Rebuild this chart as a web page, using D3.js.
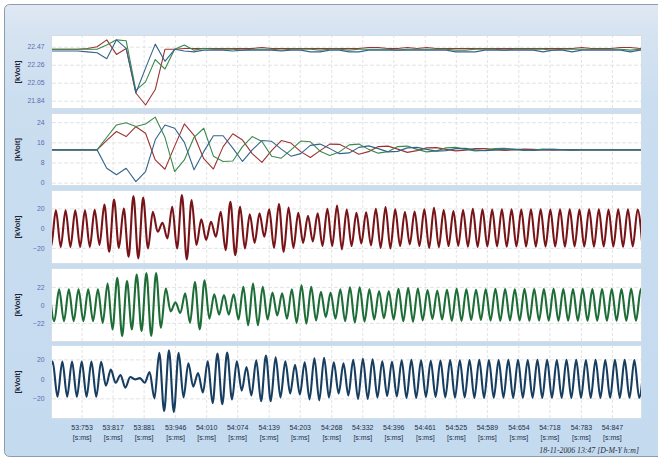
<!DOCTYPE html>
<html>
<head>
<meta charset="utf-8">
<script src="https://cdn.jsdelivr.net/npm/d3@7"></script>
<style>
  html, body { margin: 0; padding: 0; background: #fff; }
  svg { display: block; }
</style>
</head>
<body>
<svg id="chart" width="658" height="459"></svg>
<script>
// ---- time axis (seconds:milliseconds, expressed as ms) ----
const timeDomain = [53692, 54907];
const timeTicks = [53753, 53817, 53881, 53946, 54010, 54074, 54139, 54203, 54268,
                   54332, 54396, 54461, 54525, 54589, 54654, 54718, 54783, 54847];
const timeTickLabels = ["53:753", "53:817", "53:881", "53:946", "54:010", "54:074", "54:139", "54:203", "54:268",
                        "54:332", "54:396", "54:461", "54:525", "54:589", "54:654", "54:718", "54:783", "54:847"];
const timeUnit = "[s:ms]";
const unitLabel = "[kVolt]";
const stampText = "18-11-2006 13:47 [D-M-Y h:m]";

// ---- per-cycle values (one sample every 20 ms, first sample at rmsStart) ----
const rmsStart = 53685;
const rmsStep = 20;

const p1Red = [22.44, 22.44, 22.44, 22.44, 22.45,
  22.47, 22.55, 22.38, 22.45, 21.93, 21.79, 21.97, 22.44, 22.44, 22.45,
  22.45, 22.45, 22.45, 22.45, 22.45, 22.45, 22.45, 22.46, 22.45, 22.45,
  22.45, 22.45, 22.45, 22.45, 22.45, 22.45, 22.45, 22.45, 22.46, 22.46,
  22.45, 22.45, 22.46, 22.45, 22.46, 22.45, 22.45, 22.45, 22.45, 22.45,
  22.45, 22.45, 22.45, 22.45, 22.45, 22.45, 22.45, 22.45, 22.45, 22.45,
  22.46, 22.45, 22.45, 22.45, 22.46, 22.46, 22.45, 22.46];
const p1Green = [22.44, 22.44, 22.44, 22.44, 22.44,
  22.44, 22.49, 22.55, 22.54, 21.96, 22.06, 22.32, 22.21, 22.44, 22.49,
  22.43, 22.45, 22.44, 22.44, 22.44, 22.43, 22.44, 22.44, 22.44, 22.43,
  22.44, 22.44, 22.44, 22.43, 22.44, 22.44, 22.43, 22.44, 22.44, 22.44,
  22.44, 22.43, 22.44, 22.44, 22.44, 22.44, 22.44, 22.43, 22.43, 22.44,
  22.44, 22.44, 22.43, 22.44, 22.44, 22.44, 22.44, 22.43, 22.44, 22.44,
  22.44, 22.44, 22.44, 22.44, 22.44, 22.43, 22.44, 22.44];
const p1Blue = [22.42, 22.42, 22.42, 22.42, 22.41,
  22.40, 22.33, 22.55, 22.45, 21.93, 22.22, 22.50, 22.30, 22.44, 22.42,
  22.41, 22.43, 22.43, 22.43, 22.42, 22.43, 22.43, 22.43, 22.43, 22.42,
  22.43, 22.43, 22.41, 22.41, 22.43, 22.43, 22.41, 22.41, 22.43, 22.43,
  22.43, 22.43, 22.43, 22.43, 22.43, 22.43, 22.43, 22.41, 22.41, 22.41,
  22.43, 22.43, 22.43, 22.43, 22.43, 22.43, 22.41, 22.43, 22.43, 22.41,
  22.43, 22.43, 22.43, 22.43, 22.43, 22.41, 22.43, 22.43];

const p2Red = [13, 13, 13, 13, 13,
  13, 16.8, 20.3, 18.3, 22.2, 19.6, 9.0, 5.3, 14.5, 23.3,
  18.8, 9.5, 5.4, 14.3, 19.4, 16.9, 11.5, 8.0, 12.7, 16.7,
  15.7, 12.3, 10.0, 12.7, 15.3, 15.2, 13.3, 11.3, 12.3, 14.3,
  14.5, 13.3, 12.0, 12.7, 13.8, 13.9, 13.2, 12.6, 12.9, 13.5,
  13.5, 13.1, 12.8, 13.0, 13.3, 13.2, 13.0, 12.9, 13.0, 13.1,
  13.0, 13.0, 13.0, 13.0, 13.0, 13.0, 13.0, 13.0];
const p2Green = [13, 13, 13, 13, 13,
  13, 18, 22.9, 23.8, 22.3, 23.3, 26, 18, 4.4, 9,
  18, 21.6, 10.5, 8.4, 8.6, 14.3, 18.3, 16.3, 10.5, 9.7,
  13, 16.5, 16.2, 12.5, 10.8, 12.2, 15.0, 15.3, 13.2, 11.7,
  12.3, 14.3, 14.5, 13.2, 12.2, 12.6, 13.8, 14.0, 13.2, 12.6,
  12.8, 13.5, 13.6, 13.1, 12.8, 12.9, 13.3, 13.2, 13.0, 12.9,
  13.0, 13.0, 13.0, 13.0, 13.0, 13.0, 13.0, 13.0];
const p2Blue = [13, 13, 13, 13, 13,
  13, 5.7, 3.1, 5.7, 0.4, 4.4, 17, 22.9, 21.6, 16,
  5.1, 12.3, 18.6, 18.6, 13.7, 8.4, 13, 16.7, 16.4, 13.3,
  10.5, 11.5, 14.8, 15.3, 13.5, 11.5, 11.8, 14.0, 14.6, 13.5,
  12.2, 12.4, 13.8, 14.0, 13.2, 12.5, 12.7, 13.5, 13.6, 13.0,
  12.7, 12.9, 13.3, 13.3, 13.0, 12.8, 13.0, 13.2, 13.1, 12.9,
  13.0, 13.0, 13.0, 13.0, 13.0, 13.0, 13.0, 13.0];

// ---- instantaneous waveforms: successive half-cycle extremes, 10 ms apart ----
const waveStep = 10;
const redStart = 53680;      // first value is a crest
const greenStart = 53686.7;  // first value is a crest
const blueStart = 53683.3;   // first value is a trough

const waveRed = [18,
  -19, 18, -19, 18, -19, 18, -19, 18, -19, 18.5,
  -17, 24, -24, 29, -20, 20, -29, 32.5, -30.7, 31,
  -20.6, 16.6, -3.7, 5.4, -10.4, 21.7, -20.6, 33.5, -31.8, 28.5,
  -17.2, 9, -12, 6.5, -8.8, 16.6, -22.3, 26.7, -27.4, 21.7,
  -20.6, 14, -15, 15, -8.8, 19, -20, 24.5, -24, 21,
  -20, 15.5, -15, 12.5, -13.5, 15, -18, 19.6, -18.2, 23,
  -21.6, 18.8, -18.2, 15.6, -15.5, 16.2, -17.5, 19.6, -20, 21.3,
  -20.6, 19, -18.2, 16.3, -16.5, 16.8, -18.2, 19, -20, 20.6,
  -19.3, 18.3, -18.2, 17.3, -18, 18.3, -18.8, 19.6, -19, 19,
  -18.6, 18.8, -18.5, 19.2, -18.8, 19, -18.6, 18.9, -18.7, 19.1,
  -18.8, 19, -18.6, 18.8, -18.7, 19.1, -18.9, 19, -18.6, 18.9,
  -18.7, 19, -18.8, 19.1, -18.6, 18.8, -18.7, 19, -18.9, 19,
  -18.6, 18.9, -18.7];

const waveGreen = [
  19, -20, 19, -20, 19, -20, 19, -20, 19, -20,
  19, -22, 26, -30, 33, -38, 29, -30, 37, -32,
  39, -38, 39, -28, 20, -8, 3, -10, 14, -22,
  28, -30, 30, -17, 13, -12, 12, -12, 13, -18,
  22, -25, 26, -25, 22, -18, 15, -13, 14, -17,
  19, -22, 24, -23, 22, -19, 16, -15, 15, -17,
  19, -20, 21.5, -21.5, 21.5, -20.5, 19, -18, 17, -16.5,
  17, -18, 19.5, -20, 20.5, -20.5, 20, -19, 18, -17.5,
  17.5, -18, 18.5, -19.5, 19.5, -19.5, 19, -18.5, 18.5, -18.5,
  19, -19.3, 19.5, -19.5, 19.3, -19, 19, -19.2, 19.5, -19.5,
  19.4, -19.2, 19.2, -19.3, 19.5, -19.5, 19.3, -19.2, 19.3, -19.4,
  19.5, -19.4, 19.3, -19.3, 19.4, -19.5, 19.4, -19.3, 19.3, -19.4,
  19.5, -19.4, 19.3, -19.3];

const waveBlue = [
  -18.3, 17.8, -18.3, 17.8, -18.3, 17.8, -18.3, 17.8, -18.3, 17.8,
  -18.3, 17.5, -7, 9.5, -4, 4, -9, 2, -0.5, 0.8,
  -4, 7, -20, 26.7, -33, 29.4, -34, 26.7, -19, 16,
  -8, 6, -14, 18, -25, 26, -26, 27, -21, 18,
  -12, 12, -17, 19, -23, 24, -23, 22, -19, 18,
  -15, 14.5, -16, 17, -21, 21, -22, 21.5, -19, 17,
  -15, 16, -17, 19.5, -20.5, 20.5, -20.5, 20, -19, 18,
  -17.5, 17.5, -18, 19, -19.5, 19.5, -19.5, 19, -18.5, 18.5,
  -18.5, 18.8, -19, 19.2, -19.2, 19, -19, 19.3, -19.5, 19.5,
  -19.5, 19.4, -19.3, 19.2, -19.3, 19.5, -19.6, 19.5, -19.4, 19.3,
  -19.4, 19.5, -19.6, 19.5, -19.4, 19.4, -19.5, 19.6, -19.6, 19.5,
  -19.4, 19.4, -19.5, 19.6, -19.5, 19.4, -19.4, 19.5, -19.6, 19.5,
  -19.4, 19.4, -19.5, 19.6];

// ---- y tick values per panel ----
const p1Ticks = [21.84, 22.05, 22.26, 22.47];
const p2Ticks = [0, 8, 16, 24];
const p3Ticks = [-20, 0, 20];
const p4Ticks = [-22, 0, 22];
const p5Ticks = [-20, 0, 20];

// ---- layout & styling ----
const plotLeft = 52, plotRight = 641;
const colors = {
  redThin: "#9c3434", greenThin: "#3a8a4c", blueThin: "#35648a",
  red: "#781418", green: "#1d6d36", blue: "#173e60"
};
const FONT = "'Liberation Sans', Arial, sans-serif";

const panels = [
  { top: 36,  bottom: 108, domain: [21.755, 22.595], ticks: p1Ticks, fmt: d3.format(".2f"),
    kind: "cycle", series: [[p1Red, colors.redThin], [p1Green, colors.greenThin], [p1Blue, colors.blueThin]] },
  { top: 114, bottom: 185, domain: [-0.95, 27.25], ticks: p2Ticks, fmt: d3.format("d"),
    kind: "cycle", series: [[p2Red, colors.redThin], [p2Green, colors.greenThin], [p2Blue, colors.blueThin]] },
  { top: 191, bottom: 263, domain: [-35.4, 37.7], ticks: p3Ticks, fmt: d3.format("d"),
    kind: "wave", series: [[waveRed, colors.red, redStart]] },
  { top: 269, bottom: 341, domain: [-44.2, 43.8], ticks: p4Ticks, fmt: d3.format("d"),
    kind: "wave", series: [[waveGreen, colors.green, greenStart]] },
  { top: 346, bottom: 418, domain: [-40.1, 33.7], ticks: p5Ticks, fmt: d3.format("d"),
    kind: "wave", series: [[waveBlue, colors.blue, blueStart]] }
];

const svg = d3.select("#chart");
const defs = svg.append("defs");

const grad = defs.append("linearGradient").attr("id", "frameBg")
  .attr("x1", 0).attr("y1", 0).attr("x2", 0).attr("y2", 1);
[["0%", "#e0e9f4"], ["6%", "#d6e3f1"], ["22%", "#cadef0"], ["100%", "#c4daef"]]
  .forEach(([o, c]) => grad.append("stop").attr("offset", o).attr("stop-color", c));

svg.append("rect").attr("width", 658).attr("height", 459).attr("fill", "#ffffff");
svg.append("rect")
  .attr("x", 4.5).attr("y", 4.5).attr("width", 690).attr("height", 452)
  .attr("rx", 5).attr("fill", "url(#frameBg)").attr("stroke", "#8d9caa");

const x = d3.scaleLinear().domain(timeDomain).range([plotLeft, plotRight]);
const plotW = plotRight - plotLeft;

panels.forEach((p, pi) => {
  const y = d3.scaleLinear().domain(p.domain).range([p.bottom, p.top]);
  const h = p.bottom - p.top;
  const g = svg.append("g");

  // panel background
  g.append("rect")
    .attr("x", plotLeft - 0.5).attr("y", p.top - 0.5)
    .attr("width", plotW + 1).attr("height", h + 1)
    .attr("fill", "#ffffff").attr("stroke", "#d5dde7");

  // grid
  const gy = g.append("g").attr("transform", `translate(${plotLeft},0)`)
    .call(d3.axisLeft(y).tickValues(p.ticks).tickSize(-plotW).tickFormat(""));
  gy.select(".domain").remove();
  gy.selectAll("line").attr("stroke", "#e3e3e3").attr("stroke-dasharray", "4,2");

  const gx = g.append("g").attr("transform", `translate(0,${p.bottom})`)
    .call(d3.axisBottom(x).tickValues(timeTicks).tickSize(-h).tickFormat(""));
  gx.select(".domain").remove();
  gx.selectAll("line").attr("stroke", "#e3e3e3").attr("stroke-dasharray", "3,2");

  // y tick labels
  const ay = g.append("g").attr("transform", `translate(${plotLeft},0)`)
    .call(d3.axisLeft(y).tickValues(p.ticks).tickSize(0).tickPadding(7.5).tickFormat(p.fmt));
  ay.select(".domain").remove();
  ay.selectAll("text")
    .attr("fill", "#5a6cb2").attr("font-family", FONT).attr("font-size", "6.8px");

  // unit label
  g.append("text")
    .attr("transform", `translate(19.5,${(p.top + p.bottom) / 2}) rotate(-90)`)
    .attr("text-anchor", "middle")
    .attr("font-family", FONT).attr("font-size", "7.5px").attr("font-weight", "bold")
    .attr("fill", "#1c2233")
    .text(unitLabel);

  // clipped data
  const clipId = "clip" + pi;
  defs.append("clipPath").attr("id", clipId)
    .append("rect").attr("x", plotLeft).attr("y", p.top).attr("width", plotW).attr("height", h);
  const dg = g.append("g").attr("clip-path", `url(#${clipId})`);

  p.series.forEach(([vals, color, start]) => {
    let pts, line;
    if (p.kind === "cycle") {
      pts = vals.map((v, i) => [rmsStart + i * rmsStep, v]);
      line = d3.line().x(d => x(d[0])).y(d => y(d[1])).curve(d3.curveLinear);
      dg.append("path").attr("d", line(pts))
        .attr("fill", "none").attr("stroke", color).attr("stroke-width", 1.1)
        .attr("stroke-linejoin", "round");
    } else {
      pts = vals.map((v, i) => [start + i * waveStep, v]);
      line = d3.line().x(d => x(d[0])).y(d => y(d[1])).curve(d3.curveMonotoneX);
      dg.append("path").attr("d", line(pts))
        .attr("fill", "none").attr("stroke", color).attr("stroke-width", 2.1)
        .attr("stroke-linejoin", "round");
    }
  });
});

// time axis labels under the last panel
const lastBottom = panels[panels.length - 1].bottom;
const ax = svg.append("g").attr("transform", `translate(0,${lastBottom})`)
  .call(d3.axisBottom(x).tickValues(timeTicks).tickSize(0).tickPadding(7)
    .tickFormat((d, i) => timeTickLabels[i]));
ax.select(".domain").remove();
ax.selectAll("text").attr("fill", "#22304c").attr("font-family", FONT).attr("font-size", "7px");
ax.selectAll(".tick").append("text")
  .attr("y", 17).attr("dy", "0.71em")
  .attr("text-anchor", "middle")
  .attr("fill", "#22304c").attr("font-family", FONT).attr("font-size", "7px")
  .text(timeUnit);

// date stamp
svg.append("text")
  .attr("x", 639).attr("y", 453)
  .attr("text-anchor", "end")
  .attr("font-family", "'Liberation Serif', 'Times New Roman', serif")
  .attr("font-style", "italic").attr("font-size", "7.8px")
  .attr("fill", "#2a2f3c")
  .text(stampText);
</script>
</body>
</html>
